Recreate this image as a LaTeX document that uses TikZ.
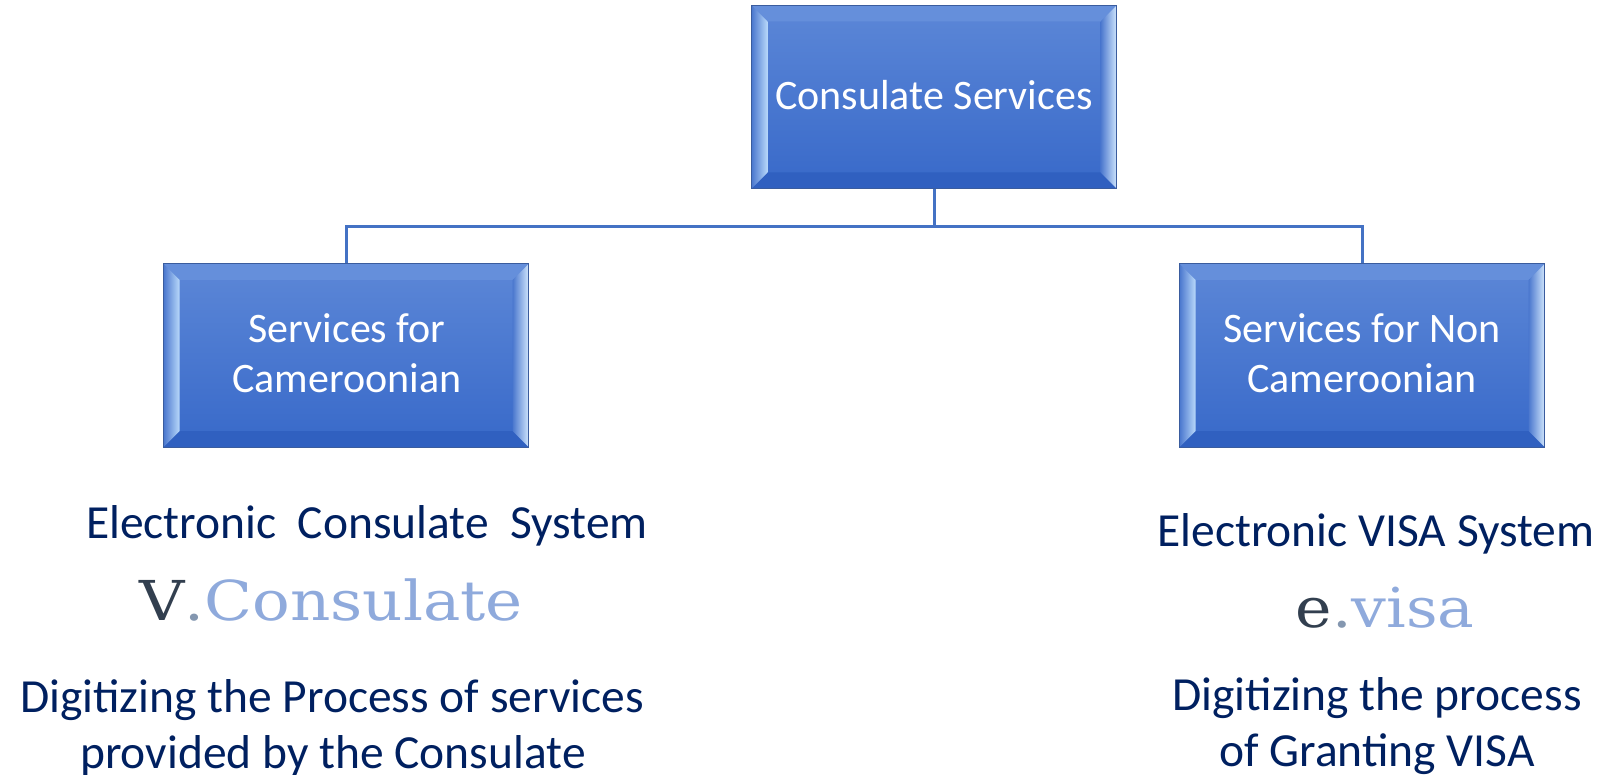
\documentclass[tikz,border=0pt]{standalone}
\usepackage{fontspec}
\setmainfont{Carlito}
\newfontfamily\logofont{DejaVu Serif}
\usetikzlibrary{calc}
\definecolor{navy}{HTML}{002060}
\definecolor{conn}{HTML}{4472C4}
\definecolor{boxtop}{HTML}{5C87D7}
\definecolor{boxbot}{HTML}{3869C9}
\definecolor{boxline}{HTML}{3A5C9E}
\definecolor{bevtop}{HTML}{658FDB}
\definecolor{bevbot}{HTML}{3060C0}
\definecolor{bevdark}{HTML}{4A77CE}
\definecolor{bevlight}{HTML}{B8D8FA}
\definecolor{logodark}{HTML}{323F4F}
\definecolor{logodot}{HTML}{8497B0}
\definecolor{logolight}{HTML}{8FAADC}
\newcommand{\bevelbox}[1]{%
  \fill[bevtop] (#1.north west) -- (#1.north east) -- ($(#1.north east)+(-16,16)$) -- ($(#1.north west)+(16,16)$) -- cycle;
  \fill[bevbot] (#1.south west) -- (#1.south east) -- ($(#1.south east)+(-16,-16)$) -- ($(#1.south west)+(16,-16)$) -- cycle;
  \shade[left color=bevdark, right color=bevlight] (#1.north west) -- ($(#1.north west)+(16,16)$) -- ($(#1.south west)+(16,-16)$) -- (#1.south west) -- cycle;
  \shade[left color=bevdark, right color=bevlight!70!white] (#1.north east) -- ($(#1.north east)+(-16,16)$) -- ($(#1.south east)+(-16,-16)$) -- (#1.south east) -- cycle;
  \draw[boxline, line width=1pt] (#1.north west) rectangle (#1.south east);
}
\tikzset{
  svcbox/.style={rectangle, minimum width=364pt, minimum height=182pt, inner sep=0pt,
    top color=boxtop, bottom color=boxbot, draw=boxline, line width=1pt},
  boxtext/.style={anchor=base, text=white, inner sep=0pt, font=\fontsize{42}{49}\selectfont},
  desc/.style={anchor=base, text=navy, inner sep=0pt, font=\fontsize{47.5}{56}\selectfont},
  logo/.style={anchor=base, inner sep=0pt, font=\logofont\fontsize{55}{60}\selectfont},
  link/.style={conn, line width=3pt}
}
\begin{document}
\begin{tikzpicture}[x=1pt,y=-1pt]
\useasboundingbox (0,0) rectangle (1606,775);
\coordinate (hub) at (934,227);
\coordinate (hl) at (346,227);
\coordinate (hr) at (1362,227);
\node[svcbox] (top) at (934,97) {};
\node[svcbox] (left) at (346,355.5) {};
\node[svcbox] (right) at (1362,355.5) {};
\draw[link] (top.south) -- (hub);
\draw[link, line cap=rect] (hl) -- (hr);
\draw[link] (hl) -- (left.north);
\draw[link] (hr) -- (right.north);
\bevelbox{top}
\bevelbox{left}
\bevelbox{right}
\node[boxtext] (ttop) at (934,110) {Consulate Services};
\node[boxtext] (tl1) at (347,343) {Services for};
\node[boxtext] (tl2) at (347,392) {Cameroonian};
\node[boxtext] (tr1) at (1362,343) {Services for Non};
\node[boxtext] (tr2) at (1362,392) {Cameroonian};
% left column
\node[desc] (le1) at (367,538) {Electronic\ \ Consulate\ \ System};
\node[logo] (lv) at (331,620) {\scalebox{1.14}[1]{\textcolor{logodark}{V}\textcolor{logodot}{.}\textcolor{logolight}{Consulate}}};
\node[desc] (ld1) at (332,712) {Digitizing the Process of services};
\node[desc] (ld2) at (333,768) {provided by the Consulate};
% right column
\node[desc] (re1) at (1376,546) {Electronic VISA System};
\node[logo] (rv) at (1385,627) {\scalebox{1.12}[1]{\textcolor{logodark}{e}\textcolor{logodot}{.}\textcolor{logolight}{visa}}};
\node[desc] (rd1) at (1377,710) {Digitizing the process};
\node[desc] (rd2) at (1377,766) {of Granting VISA};
\end{tikzpicture}
\end{document}
